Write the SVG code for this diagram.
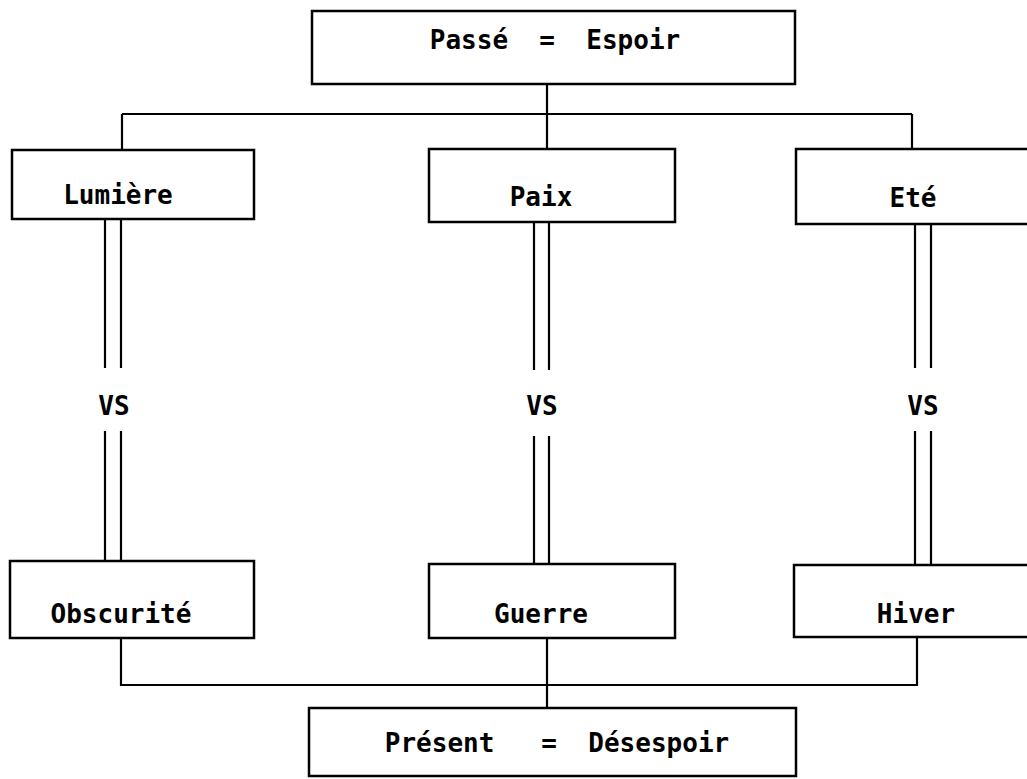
<svg xmlns="http://www.w3.org/2000/svg" width="1027" height="779" viewBox="0 0 1027 779">
<style>
  .box { fill: none; stroke: #000; stroke-width: 2.5; }
  .ln { fill: none; stroke: #000; stroke-width: 2.2; }
  .t { font-family: "DejaVu Sans Mono", "Liberation Mono", monospace; font-size: 26px; font-weight: bold; fill: #000; text-anchor: middle; white-space: pre; }
</style>
<rect width="1027" height="779" fill="#fff"/>
<g id="connectors">
  <!-- top tree -->
  <path class="ln" d="M547 84 V114 M122 114 H912 M122 114 V150 M547 114 V149 M912 114 V149"/>
  <!-- double lines upper -->
  <path class="ln" d="M105 219 V368 M121 219 V368 M534 222 V370 M549 222 V370 M915 224 V368 M931 224 V368"/>
  <!-- double lines lower -->
  <path class="ln" d="M105 431 V561 M121 431 V561 M534 436 V564 M549 436 V564 M915 431 V565 M931 431 V565"/>
  <!-- bottom tree -->
  <path class="ln" d="M121 638 V685 H917 V637 M547 638 V708"/>
</g>
<g id="n-passe">
  <rect class="box" x="312" y="11" width="483" height="73"/>
  <text class="t" x="555" y="49" xml:space="preserve">Passé  =  Espoir</text>
</g>
<g id="n-lumiere">
  <rect class="box" x="12" y="150" width="242" height="69"/>
  <text class="t" x="118" y="204">Lumière</text>
</g>
<g id="n-paix">
  <rect class="box" x="429" y="149" width="246" height="73"/>
  <text class="t" x="541" y="206">Paix</text>
</g>
<g id="n-ete">
  <rect class="box" x="796" y="149" width="250" height="75"/>
  <text class="t" x="913" y="207">Eté</text>
</g>
<g id="n-vs1"><text class="t" x="114" y="415">VS</text></g>
<g id="n-vs2"><text class="t" x="542" y="415">VS</text></g>
<g id="n-vs3"><text class="t" x="923" y="415">VS</text></g>
<g id="n-obscurite">
  <rect class="box" x="10" y="561" width="244" height="77"/>
  <text class="t" x="121" y="623">Obscurité</text>
</g>
<g id="n-guerre">
  <rect class="box" x="429" y="564" width="246" height="74"/>
  <text class="t" x="541" y="623">Guerre</text>
</g>
<g id="n-hiver">
  <rect class="box" x="794" y="565" width="252" height="72"/>
  <text class="t" x="916" y="623">Hiver</text>
</g>
<g id="n-present">
  <rect class="box" x="309" y="708" width="487" height="68"/>
  <text class="t" x="557" y="752" xml:space="preserve">Présent   =  Désespoir</text>
</g>
</svg>
